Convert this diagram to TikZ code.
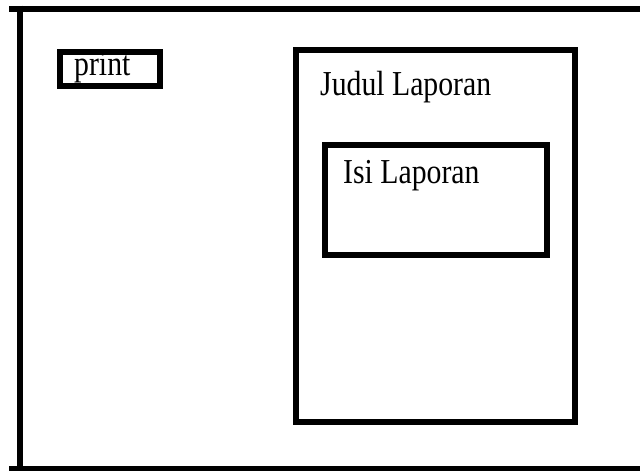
\documentclass[tikz,border=0pt]{standalone}
\usepackage{fontspec}
\setmainfont{Liberation Serif}
\newcommand{\cond}[1]{\scalebox{0.85}[1]{#1}}
\begin{document}
\begin{tikzpicture}[x=1pt,y=-1pt,
  frameline/.style={line width=6pt,line cap=butt},
  boxshape/.style={draw,line width=6pt,rectangle,inner sep=0pt,outer sep=0pt,anchor=north west},
  lbl/.style={font=\fontsize{35}{42}\selectfont,inner sep=0pt,anchor=base west}]
\useasboundingbox (0,0) rectangle (640,471);
% outer frame
\coordinate (tl) at (9,8.5);
\coordinate (tr) at (640,8.5);
\coordinate (bl) at (9,469);
\coordinate (br) at (640,469);
\coordinate (vt) at (20,5.5);
\coordinate (vb) at (20,472);
\draw[frameline] (tl) -- (tr);
\draw[frameline] (bl) -- (br);
\draw[frameline] (vt) -- (vb);
% print button
\node[boxshape,minimum width=100pt,minimum height=34pt] (printbox) at (60,52) {};
\node[lbl] (printtxt) at (74,75.5) {\cond{print}};
% report area
\node[boxshape,minimum width=279pt,minimum height=372pt] (judulbox) at (296,50) {};
\node[lbl] (judultxt) at (320,95) {\cond{Judul Laporan}};
\node[boxshape,minimum width=222pt,minimum height=110pt] (isibox) at (325,145) {};
\node[lbl] (isitxt) at (343,183) {\cond{Isi Laporan}};
\end{tikzpicture}
\end{document}
